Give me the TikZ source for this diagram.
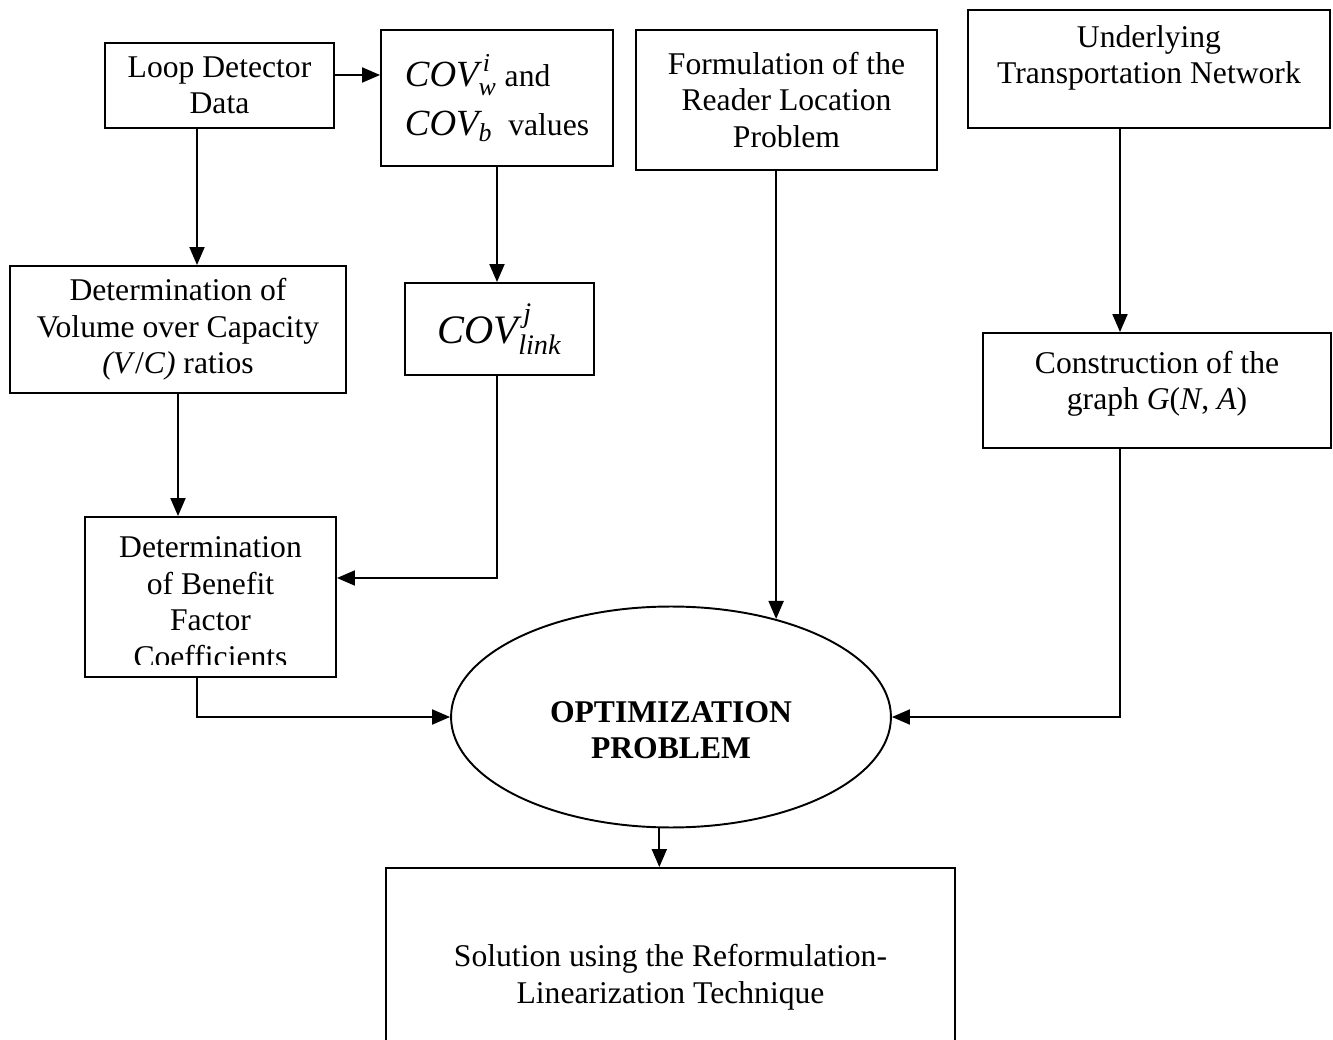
\documentclass[tikz,border=0pt]{standalone}
\usepackage{amsmath}
\usepackage{fontspec}
\setmainfont{Liberation Serif}
\usetikzlibrary{shapes.geometric,arrows.meta,calc}
\begin{document}
\begin{tikzpicture}[x=0.02cm,y=-0.02cm,
  box/.style={draw, line width=1.1pt, inner sep=0pt, align=center,
              font=\fontsize{18}{20.8}\selectfont},
  txt/.style={inner sep=0pt, align=center, font=\fontsize{18}{20.8}\selectfont},
  arr/.style={line width=1.1pt, -{Triangle[length=0.36cm,width=0.3cm]}},
  ]
\useasboundingbox (0,0) rectangle (1333,1040);
\clip (0,0) rectangle (1333,1040);

% input boxes
\node[box, minimum width=4.58cm, minimum height=1.7cm] (loop) at (219.5,85.5) {Loop Detector\\Data};
\node[box, minimum width=4.64cm, minimum height=2.72cm, align=left,
      font=\fontsize{18}{28}\selectfont] (cov) at (497,98)
  {{\fontsize{21}{28}\selectfont$\textit{COV}^{\,\textit{i}}_{\textit{w}}$} and\\
   {\fontsize{21}{28}\selectfont$\textit{COV}_{\textit{b}}$}\ \ values};
\node[box, minimum width=6.02cm, minimum height=2.8cm] (form) at (786.5,100)
  {Formulation of the\\Reader Location\\Problem};
\node[box, minimum width=7.24cm, minimum height=2.36cm] (under) at (1149,69) {};
\node[txt] (undertext) at (1149,58) {Underlying\\Transportation Network};

% second row
\node[box, minimum width=6.72cm, minimum height=2.54cm] (vc) at (178,329.5)
  {Determination of\\Volume over Capacity\\\textit{(V}/\textit{C)} ratios};
\node[box, minimum width=3.78cm, minimum height=1.84cm] (link) at (499.5,329)
  {{\fontsize{23}{28}\selectfont$\textit{COV}^{\,\textit{j}}_{\textit{link}}$}};
\node[box, minimum width=6.96cm, minimum height=2.3cm] (constr) at (1157,390.5) {};
\node[txt] (constrtext) at (1157,384) {Construction of the\\graph \textit{G}(\textit{N}, \textit{A})};

% benefit factor box, its last line cut off by the frame
\node[box, minimum width=5.02cm, minimum height=3.2cm] (benefit) at (210.5,597) {};
\begin{scope}
  \clip ($(benefit.south west)+(0,-13)$) rectangle (benefit.north east);
  \node[txt] (benefittext) at (210.5,602) {Determination\\of Benefit\\Factor\\Coefficients};
\end{scope}

% central problem and solution
\node[draw, ellipse, line width=1.1pt, inner sep=0pt,
      minimum width=8.8cm, minimum height=4.42cm] (opt) at (671,717) {};
\node[txt, font=\fontsize{18}{20.8}\selectfont\bfseries] (opttext) at (671,730) {OPTIMIZATION\\PROBLEM};
\node[box, minimum width=11.38cm, minimum height=4.36cm] (sol) at (670.5,977)
  {Solution using the Reformulation-\\Linearization Technique};

% connectors
\coordinate (p1) at ($(loop.east)+(0,-10.5)$);
\draw[arr] (p1) -- (p1 -| cov.west);
\coordinate (p2) at ($(loop.south)+(-22.5,0)$);
\draw[arr] (p2) -- (p2 |- vc.north);
\draw[arr] (cov.south) -- (cov.south |- link.north);
\draw[arr] (form.south -| opt.43) -- (opt.43);
\coordinate (p3) at ($(under.south)+(-29,0)$);
\draw[arr] (p3) -- (p3 |- constr.north);
\draw[arr] (vc.south) -- (vc.south |- benefit.north);
\coordinate (p4) at ($(benefit.east)+(0,-19)$);
\draw[arr] (cov.south |- link.south) |- (p4);
\coordinate (p5) at ($(benefit.south)+(-13.5,0)$);
\draw[arr] (p5) |- (opt.west);
\coordinate (p6) at (p3 |- constr.south);
\draw[arr] (p6) |- (opt.east);
\draw[arr] (opt.264) -- (opt.264 |- sol.north);
\end{tikzpicture}
\end{document}
